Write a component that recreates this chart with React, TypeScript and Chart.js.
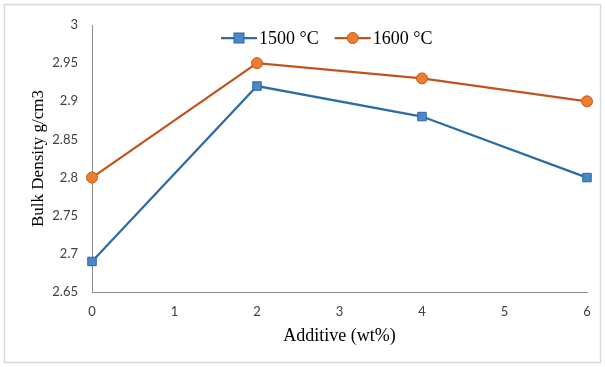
import React, { useEffect, useRef } from "react";
import { Chart, registerables } from "chart.js";

Chart.register(...registerables);

const additive = [0, 2, 4, 6];
const density1500 = [2.69, 2.92, 2.88, 2.8];
const density1600 = [2.8, 2.95, 2.93, 2.9];
const seriesLabels = ["1500 °C", "1600 °C"];
const xTitle = "Additive (wt%)";
const yTitle = "Bulk Density g/cm3";

const BLUE_LINE = "#2E6BA6";
const BLUE_FILL = "#4A88CC";
const BLUE_EDGE = "#2F65A0";
const ORANGE_LINE = "#C0541F";
const ORANGE_FILL = "#ED7D31";
const ORANGE_EDGE = "#C55A11";
const SERIF = "'Liberation Serif', 'Times New Roman', serif";

const framePlugin = {
  id: "frame",
  beforeDraw(chart: any) {
    const ctx = chart.ctx;
    ctx.save();
    ctx.fillStyle = "#ffffff";
    ctx.fillRect(0, 0, chart.width, chart.height);
    ctx.strokeStyle = "#d9d9d9";
    ctx.lineWidth = 1.5;
    ctx.strokeRect(4.5, 4.5, chart.width - 9, chart.height - 9);
    ctx.restore();
  },
};

const legendPlugin = {
  id: "customLegend",
  afterDraw(chart: any) {
    const ctx = chart.ctx;
    ctx.save();
    ctx.font = "18px " + SERIF;
    ctx.textBaseline = "middle";
    const y = 38;
    let x = 221;
    const items = [
      { text: seriesLabels[0], line: BLUE_LINE, fill: BLUE_FILL, edge: BLUE_EDGE, shape: "rect" },
      { text: seriesLabels[1], line: ORANGE_LINE, fill: ORANGE_FILL, edge: ORANGE_EDGE, shape: "circle" },
    ];
    for (const it of items) {
      ctx.strokeStyle = it.line;
      ctx.lineWidth = 2.25;
      ctx.beginPath();
      ctx.moveTo(x, y);
      ctx.lineTo(x + 36, y);
      ctx.stroke();
      ctx.fillStyle = it.fill;
      ctx.strokeStyle = it.edge;
      ctx.lineWidth = 1;
      const cx = x + 18;
      if (it.shape === "rect") {
        ctx.fillRect(cx - 5, y - 5, 10, 10);
        ctx.strokeRect(cx - 5, y - 5, 10, 10);
      } else {
        ctx.beginPath();
        ctx.arc(cx, y, 5.5, 0, Math.PI * 2);
        ctx.fill();
        ctx.stroke();
      }
      ctx.fillStyle = "#000000";
      ctx.fillText(it.text, x + 38, y + 1);
      x = x + 38 + ctx.measureText(it.text).width + 16;
    }
    ctx.restore();
  },
};

export default function App() {
  const ref = useRef<HTMLCanvasElement | null>(null);

  useEffect(() => {
    if (!ref.current) return;
    const tickFont = { family: "Lato, 'Open Sans', sans-serif", size: 13 };
    const chart = new Chart(ref.current, {
      type: "line",
      data: {
        datasets: [
          {
            label: seriesLabels[0],
            data: additive.map((x, i) => ({ x, y: density1500[i] })),
            borderColor: BLUE_LINE,
            borderWidth: 2.25,
            backgroundColor: BLUE_FILL,
            pointBackgroundColor: BLUE_FILL,
            pointBorderColor: BLUE_EDGE,
            pointBorderWidth: 1,
            pointStyle: "rect",
            pointRadius: 6,
            tension: 0,
            clip: false,
          },
          {
            label: seriesLabels[1],
            data: additive.map((x, i) => ({ x, y: density1600[i] })),
            borderColor: ORANGE_LINE,
            borderWidth: 2.25,
            backgroundColor: ORANGE_FILL,
            pointBackgroundColor: ORANGE_FILL,
            pointBorderColor: ORANGE_EDGE,
            pointBorderWidth: 1,
            pointStyle: "circle",
            pointRadius: 5.5,
            tension: 0,
            clip: false,
          },
        ],
      },
      options: {
        animation: false,
        responsive: false,
        maintainAspectRatio: false,
        layout: { padding: { top: 25, right: 18, left: 0, bottom: 0 } },
        plugins: {
          legend: { display: false },
          tooltip: { enabled: false },
        },
        scales: {
          x: {
            type: "linear",
            min: 0,
            max: 6,
            ticks: { stepSize: 1, color: "#404040", font: tickFont, padding: 12 },
            grid: { display: false, drawTicks: false },
            border: { color: "#8c8c8c", width: 1 },
            title: {
              display: true,
              text: xTitle,
              color: "#000000",
              font: { family: SERIF, size: 18 },
              padding: { top: 4, bottom: 20 },
            },
            afterFit(scale: any) {
              scale.height = 75;
            },
          },
          y: {
            type: "linear",
            min: 2.65,
            max: 3,
            ticks: {
              stepSize: 0.05,
              color: "#404040",
              font: tickFont,
              padding: 14,
              callback: (v: any) => String(Math.round(Number(v) * 100) / 100),
            },
            grid: { display: false, drawTicks: false },
            border: { color: "#8c8c8c", width: 1 },
            title: {
              display: true,
              text: yTitle,
              color: "#000000",
              font: { family: SERIF, size: 17 },
              padding: { top: 28, bottom: 4 },
            },
            afterFit(scale: any) {
              scale.width = 92;
            },
          },
        },
      },
      plugins: [framePlugin, legendPlugin],
    } as any);
    return () => chart.destroy();
  }, []);

  return (
    <div style={{ position: "fixed", left: 0, top: 0, width: 605, height: 367, background: "#fff" }}>
      <canvas ref={ref} width={605} height={367} style={{ width: 605, height: 367, display: "block" }} />
    </div>
  );
}
